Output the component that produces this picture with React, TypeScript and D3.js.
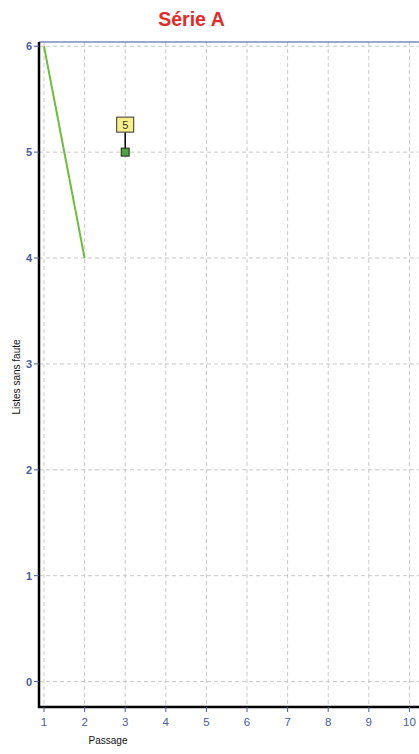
import React from "react";
import * as d3 from "d3";

const lineX = [1, 2];
const lineY = [6, 4];
const pointX = [3];
const pointY = [5];
const pointLabels = ["5"];
const xTicks = [1, 2, 3, 4, 5, 6, 7, 8, 9, 10];
const yTicks = [0, 1, 2, 3, 4, 5, 6];
const title = "Série A";
const xLabel = "Passage";
const yLabel = "Listes sans faute";

export default function App() {
  const W = 419, H = 754;
  const left = 39, right = 419, top = 42, bottom = 707;
  const x = d3.scaleLinear().domain([0.877, 10.236]).range([left, right]);
  const y = d3.scaleLinear().domain([-0.24, 6.04]).range([bottom, top]);
  const line = d3.line<number>().x((d, i) => x(lineX[i])).y((d) => y(d));
  const tickColor = "#4a5aa8";
  const font = "Arial, 'Liberation Sans', sans-serif";
  return (
    <svg width={W} height={H} style={{ position: "absolute", left: 0, top: 0, background: "#fff" }}>
      <text x={191.5} y={26} textAnchor="middle" fill="#e62a2a" fontWeight="bold" fontSize={19.5} fontFamily={font}>{title}</text>
      {xTicks.map((t) => (
        <line key={"gx" + t} x1={x(t)} x2={x(t)} y1={top} y2={bottom} stroke="#c8c8c8" strokeDasharray="4,3" />
      ))}
      {yTicks.map((t) => (
        <line key={"gy" + t} x1={left} x2={right} y1={y(t)} y2={y(t)} stroke="#c8c8c8" strokeDasharray="4,3" />
      ))}
      <line x1={left} x2={right} y1={top} y2={top} stroke="#3d4f9e" strokeWidth={1.2} />
      <line x1={left} x2={left} y1={top} y2={bottom + 1} stroke="#000" strokeWidth={2.5} />
      <line x1={left - 1} x2={right} y1={bottom} y2={bottom} stroke="#000" strokeWidth={2.5} />
      {yTicks.map((t) => (
        <g key={"ty" + t}>
          <line x1={left - 5} x2={left} y1={y(t)} y2={y(t)} stroke={tickColor} strokeWidth={1} />
          <text x={left - 7} y={y(t) + 4} textAnchor="end" fill={tickColor} fontSize={11} fontWeight="bold" fontFamily={font}>{t}</text>
        </g>
      ))}
      {xTicks.map((t) => (
        <g key={"tx" + t}>
          <line x1={x(t)} x2={x(t)} y1={bottom} y2={bottom + 5} stroke={tickColor} strokeWidth={1} />
          <text x={x(t)} y={bottom + 19} textAnchor="middle" fill={tickColor} fontSize={11.5} fontFamily={font}>{t}</text>
        </g>
      ))}
      <text x={108} y={744} textAnchor="middle" fill="#111" fontSize={10} fontFamily={font}>{xLabel}</text>
      <text transform={`translate(20,${377}) rotate(-90)`} textAnchor="middle" fill="#111" fontSize={10} fontFamily={font}>{yLabel}</text>
      <path d={line(lineY) || ""} fill="none" stroke="#6cbf3a" strokeWidth={2} />
      {pointX.map((px, i) => {
        const cx = x(px), cy = y(pointY[i]);
        return (
          <g key={"p" + i}>
            <line x1={cx} x2={cx} y1={cy - 20} y2={cy} stroke="#000" strokeWidth={1.5} />
            <rect x={cx - 4} y={cy - 4} width={8} height={8} fill="#4aa63a" stroke="#222" strokeWidth={1} />
            <rect x={cx - 8.5} y={cy - 35} width={17} height={15} fill="#f8ef8a" stroke="#333" strokeWidth={1} />
            <text x={cx} y={cy - 23.5} textAnchor="middle" fontSize={11} fill="#333" fontFamily={font}>{pointLabels[i]}</text>
          </g>
        );
      })}
    </svg>
  );
}
